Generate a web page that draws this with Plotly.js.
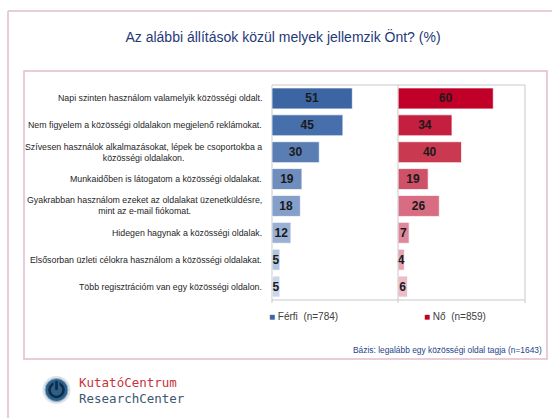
<!DOCTYPE html>
<html>
<head>
<meta charset="utf-8">
<script src="https://cdn.plot.ly/plotly-3.0.1.min.js"></script>
<style>html,body{margin:0;padding:0;background:#fff;}#chart{width:552px;height:418px;}</style>
</head>
<body>
<div id="chart"></div>
<script>
// ---- data ----
const categories = [
  "Napi szinten használom valamelyik közösségi oldalt.",
  "Nem figyelem a közösségi oldalakon megjelenő reklámokat.",
  "Szívesen használok alkalmazásokat, lépek be csoportokba a<br>közösségi oldalakon.",
  "Munkaidőben is látogatom a közösségi oldalakat.",
  "Gyakrabban használom ezeket az oldalakat üzenetküldésre,<br>mint az e-mail fiókomat.",
  "Hidegen hagynak a közösségi oldalak.",
  "Elsősorban üzleti célokra használom a közösségi oldalakat.",
  "Több regisztrációm van egy közösségi oldalon."
];
const ferfi = [51, 45, 30, 19, 18, 12, 5, 5];
const no = [60, 34, 40, 19, 26, 7, 4, 6];
const seriesNames = ["Férfi  (n=784)", "Nő  (n=859)"];
const titleText = "Az alábbi állítások közül melyek jellemzik Önt? (%)";
const footnote = "Bázis: legalább egy közösségi oldal tagja (n=1643)";
const logoLines = ["KutatóCentrum", "ResearchCenter"];

// ---- styles ----
const blueShades = ['#3b65a3','#476fab','#5a7eb4','#6f8ebe','#849fc9','#9bb1d4','#b3c4df','#cad6ea'];
const redShades  = ['#c00028','#c41f3e','#c93a51','#cf5168','#d76c82','#df889b','#e7a3b2','#eebcc7'];
const W = 552, H = 418;
const px = v => v / W;
const py = v => 1 - v / H;
const pink = '#e2bccb';
const grey = '#c9c9c9';
const fontMain = 'Liberation Sans, Arial, sans-serif';
const fontNarrow = 'Liberation Sans Narrow, Liberation Sans, Arial, sans-serif';

const valueFont = {family: fontNarrow, size: 12, color: '#1a1a1a'};

const traces = [
  {
    type: 'bar', orientation: 'h', name: seriesNames[0],
    y: categories, x: ferfi, xaxis: 'x', yaxis: 'y',
    marker: {color: blueShades, line: {color: 'rgba(255,255,255,0.7)', width: 1}},
    width: 0.78,
    texttemplate: '<b>%{x}</b>', textposition: 'inside', insidetextanchor: 'middle',
    constraintext: 'none', insidetextfont: valueFont, cliponaxis: false,
    hoverinfo: 'skip', showlegend: false
  },
  {
    type: 'bar', orientation: 'h', name: seriesNames[1],
    y: categories, x: no, xaxis: 'x2', yaxis: 'y',
    marker: {color: redShades, line: {color: 'rgba(255,255,255,0.7)', width: 1}},
    width: 0.78,
    texttemplate: '<b>%{x}</b>', textposition: 'inside', insidetextanchor: 'middle',
    constraintext: 'none', insidetextfont: valueFont, cliponaxis: false,
    hoverinfo: 'skip', showlegend: false
  }
];

const annotations = categories.map(c => ({
  xref: 'paper', yref: 'y', x: px(264), y: c,
  xanchor: 'right', yanchor: 'middle', align: 'center',
  text: c, showarrow: false,
  font: {family: fontMain, size: 8.8, color: '#1e1e1e'}
}));

annotations.push(
  {xref: 'paper', yref: 'paper', x: px(267), y: py(316), xanchor: 'left', yanchor: 'middle',
   text: '<span style="color:' + blueShades[0] + '">■</span> ' + seriesNames[0], showarrow: false,
   font: {family: fontMain, size: 10, color: '#404040'}},
  {xref: 'paper', yref: 'paper', x: px(422), y: py(316), xanchor: 'left', yanchor: 'middle',
   text: '<span style="color:' + redShades[0] + '">■</span> ' + seriesNames[1], showarrow: false,
   font: {family: fontMain, size: 10, color: '#404040'}},
  {xref: 'paper', yref: 'paper', x: px(544), y: py(350), xanchor: 'right', yanchor: 'middle',
   text: footnote, showarrow: false,
   font: {family: fontMain, size: 8.4, color: '#24448a'}},
  {xref: 'paper', yref: 'paper', x: px(77), y: py(390.5), xanchor: 'left', yanchor: 'middle', align: 'left',
   text: '<span style="color:#c8323c">' + logoLines[0] + '</span><br><span style="color:#3d5870">' + logoLines[1] + '</span>',
   showarrow: false,
   font: {family: 'DejaVu Sans Mono, monospace', size: 12.5, color: '#3d5870'}}
);

const shapes = [
  // outer frame
  {type: 'line', xref: 'paper', yref: 'paper', x0: px(8), x1: px(8), y0: py(418), y1: py(11), line: {color: pink, width: 1.5}},
  {type: 'line', xref: 'paper', yref: 'paper', x0: px(8), x1: px(552), y0: py(11), y1: py(11), line: {color: pink, width: 1.5}},
  // inner frame
  {type: 'rect', xref: 'paper', yref: 'paper', x0: px(24), x1: px(547), y0: py(359), y1: py(71), line: {color: pink, width: 1.5}},
  // plot box
  {type: 'rect', xref: 'paper', yref: 'paper', x0: px(272), x1: px(525), y0: py(300), y1: py(85), line: {color: grey, width: 1}, layer: 'below'},
  {type: 'line', xref: 'paper', yref: 'paper', x0: px(398), x1: px(398), y0: py(303), y1: py(85), line: {color: grey, width: 1}},
  {type: 'line', xref: 'paper', yref: 'paper', x0: px(272), x1: px(272), y0: py(303), y1: py(300), line: {color: grey, width: 1}},
  {type: 'line', xref: 'paper', yref: 'paper', x0: px(525), x1: px(525), y0: py(303), y1: py(300), line: {color: grey, width: 1}},
  // logo
  {type: 'circle', xref: 'paper', yref: 'paper', xsizemode: 'pixel', ysizemode: 'pixel',
   xanchor: px(56.5), yanchor: py(390), x0: -14, x1: 14, y0: -14, y1: 14,
   fillcolor: '#dde3e8', line: {width: 0}},
  {type: 'circle', xref: 'paper', yref: 'paper', xsizemode: 'pixel', ysizemode: 'pixel',
   xanchor: px(56.5), yanchor: py(390), x0: -11.5, x1: 11.5, y0: -11.5, y1: 11.5,
   fillcolor: '#2d618a', line: {color: '#8fb3cc', width: 1}},
  {type: 'circle', xref: 'paper', yref: 'paper', xsizemode: 'pixel', ysizemode: 'pixel',
   xanchor: px(56.5), yanchor: py(390), x0: -7, x1: 7, y0: -7, y1: 7,
   fillcolor: 'rgba(0,0,0,0)', line: {color: '#0f2b45', width: 2.6}},
  {type: 'rect', xref: 'paper', yref: 'paper', xsizemode: 'pixel', ysizemode: 'pixel',
   xanchor: px(56.5), yanchor: py(390), x0: -3, x1: 3, y0: 3, y1: 9,
   fillcolor: '#2d618a', line: {width: 0}},
  {type: 'line', xref: 'paper', yref: 'paper', xsizemode: 'pixel', ysizemode: 'pixel',
   xanchor: px(56.5), yanchor: py(390), x0: 0, x1: 0, y0: 0, y1: 9,
   line: {color: '#0f2b45', width: 2.6}}
];

const axisCommon = {range: [0, 80], showticklabels: false, showgrid: false, zeroline: false,
  showline: false, ticks: '', fixedrange: true};

const layout = {
  width: W, height: H,
  margin: {l: 0, r: 0, t: 0, b: 0, pad: 0},
  paper_bgcolor: '#ffffff', plot_bgcolor: 'rgba(0,0,0,0)',
  title: {text: titleText, x: px(283), y: py(37), xref: 'paper', yref: 'paper',
    xanchor: 'center', yanchor: 'middle',
    font: {family: fontMain, size: 14, color: '#1f3a78'}},
  xaxis: Object.assign({domain: [px(272), px(398)], anchor: 'y'}, axisCommon),
  xaxis2: Object.assign({domain: [px(398), px(525)], anchor: 'y'}, axisCommon),
  yaxis: {domain: [py(300), py(85)], type: 'category', categoryorder: 'array', categoryarray: categories,
    autorange: 'reversed', showticklabels: false, showgrid: false, zeroline: false, showline: false,
    ticks: '', fixedrange: true},
  bargap: 0.22,
  annotations: annotations,
  shapes: shapes,
  showlegend: false
};

Plotly.newPlot('chart', traces, layout, {staticPlot: true, displayModeBar: false});
</script>
</body>
</html>
